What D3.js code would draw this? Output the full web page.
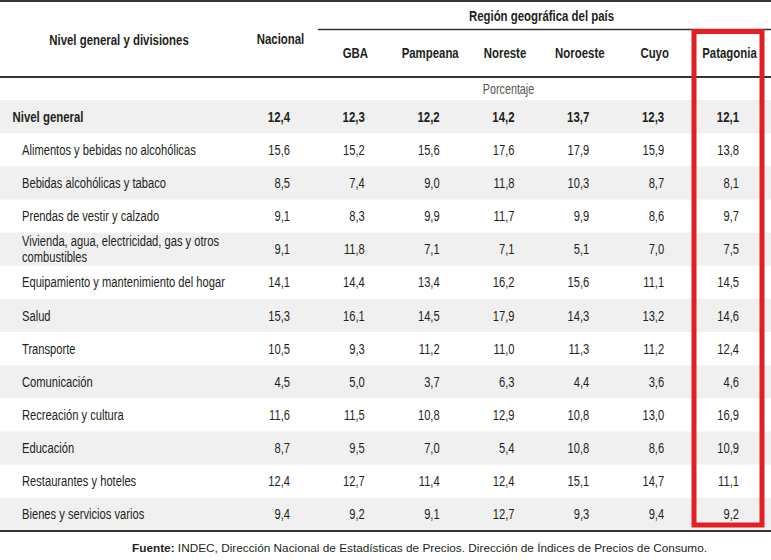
<!DOCTYPE html>
<html>
<head>
<meta charset="utf-8">
<title>Variación por región</title>
<script src="https://cdn.jsdelivr.net/npm/d3@7"></script>
<style>
  body { margin: 0; background: #fff; }
  svg { display: block; font-family: "Liberation Sans", Arial, sans-serif; }
</style>
</head>
<body>
<div id="chart"></div>
<script>
// data
const divisions = [
  "Nivel general",
  "Alimentos y bebidas no alcohólicas",
  "Bebidas alcohólicas y tabaco",
  "Prendas de vestir y calzado",
  "Vivienda, agua, electricidad, gas y otros combustibles",
  "Equipamiento y mantenimiento del hogar",
  "Salud",
  "Transporte",
  "Comunicación",
  "Recreación y cultura",
  "Educación",
  "Restaurantes y hoteles",
  "Bienes y servicios varios"
];
const regions = ["Nacional", "GBA", "Pampeana", "Noreste", "Noroeste", "Cuyo", "Patagonia"];

const nacional  = [12.4, 15.6, 8.5, 9.1, 9.1, 14.1, 15.3, 10.5, 4.5, 11.6, 8.7, 12.4, 9.4];
const gba       = [12.3, 15.2, 7.4, 8.3, 11.8, 14.4, 16.1, 9.3, 5.0, 11.5, 9.5, 12.7, 9.2];
const pampeana  = [12.2, 15.6, 9.0, 9.9, 7.1, 13.4, 14.5, 11.2, 3.7, 10.8, 7.0, 11.4, 9.1];
const noreste   = [14.2, 17.6, 11.8, 11.7, 7.1, 16.2, 17.9, 11.0, 6.3, 12.9, 5.4, 12.4, 12.7];
const noroeste  = [13.7, 17.9, 10.3, 9.9, 5.1, 15.6, 14.3, 11.3, 4.4, 10.8, 10.8, 15.1, 9.3];
const cuyo      = [12.3, 15.9, 8.7, 8.6, 7.0, 11.1, 13.2, 11.2, 3.6, 13.0, 8.6, 14.7, 9.4];
const patagonia = [12.1, 13.8, 8.1, 9.7, 7.5, 14.5, 14.6, 12.4, 4.6, 16.9, 10.9, 11.1, 9.2];

const series = [nacional, gba, pampeana, noreste, noroeste, cuyo, patagonia];
const highlighted = "Patagonia";

const width = 771, height = 560;
const ink = "#231f20";
const narrow = 0.77;     // squeeze to mimic a condensed face
const narrowBold = 0.815;

const svg = d3.select("#chart").append("svg")
  .attr("width", width)
  .attr("height", height);

// scales
const y = d3.scaleBand().domain(divisions).range([100, 531]);
const x = d3.scalePoint().domain(regions).range([290, 739]);

const es = d3.formatLocale({ decimal: ",", thousands: ".", grouping: [3], currency: ["$", ""] });
const fmt = es.format(".1f");

// place a text at (px, py) squeezed horizontally
function at(px, py, sx) {
  return `translate(${px},${py}) scale(${sx},1)`;
}

// zebra rows
svg.append("g")
  .selectAll("rect")
  .data(divisions.filter((d, i) => i % 2 === 0))
  .join("rect")
  .attr("x", 0)
  .attr("width", width)
  .attr("y", d => y(d))
  .attr("height", y.bandwidth())
  .attr("fill", "#f0f0f1");

// rules
svg.append("line").attr("x1", 0).attr("x2", width).attr("y1", 1).attr("y2", 1)
  .attr("stroke", "#333").attr("stroke-width", 2);
svg.append("line").attr("x1", x("GBA") - 47).attr("x2", width).attr("y1", 29.5).attr("y2", 29.5)
  .attr("stroke", "#333").attr("stroke-width", 1.3);
svg.append("line").attr("x1", 0).attr("x2", width).attr("y1", 77).attr("y2", 77)
  .attr("stroke", "#333").attr("stroke-width", 2);
svg.append("line").attr("x1", 0).attr("x2", width).attr("y1", 531).attr("y2", 531)
  .attr("stroke", "#333").attr("stroke-width", 2);

// header
const head = svg.append("g").attr("fill", ink).attr("font-weight", "bold").attr("font-size", 14)
  .attr("text-anchor", "middle");
head.append("text").attr("transform", at(119, 44.5, narrowBold))
  .text("Nivel general y divisiones");
head.append("text").attr("transform", at(x("Nacional") - 9.5, 43.5, narrowBold))
  .text("Nacional");
head.append("text").attr("transform", at(541.5, 21, narrowBold))
  .text("Región geográfica del país");
head.selectAll("text.col")
  .data(regions.slice(1))
  .join("text")
  .attr("class", "col")
  .attr("transform", d => at(x(d) - 9.5, 58, narrowBold))
  .text(d => d);

svg.append("text")
  .attr("transform", at(508.5, 93.5, narrow))
  .attr("text-anchor", "middle")
  .attr("font-size", 14).attr("fill", "#555")
  .text("Porcentaje");

// row labels
const labels = svg.append("g").attr("fill", ink).attr("font-size", 14.5);
labels.selectAll("text")
  .data(divisions)
  .join("text")
  .attr("transform", (d, i) => at(i === 0 ? 12.5 : 22, y(d) + y.bandwidth() / 2 + 5, i === 0 ? narrowBold : narrow))
  .attr("font-size", (d, i) => i === 0 ? 14 : null)
  .attr("font-weight", (d, i) => i === 0 ? "bold" : null)
  .each(function(d) {
    const t = d3.select(this);
    if (d.startsWith("Vivienda")) {
      const cut = d.lastIndexOf(" ");
      t.append("tspan").attr("x", 0).attr("y", -8).text(d.slice(0, cut));
      t.append("tspan").attr("x", 0).attr("y", 8).text(d.slice(cut + 1));
    } else {
      t.text(d);
    }
  });

// values
const cols = svg.append("g").attr("fill", ink).attr("font-size", 14.5).attr("text-anchor", "end");
regions.forEach((r, j) => {
  cols.append("g")
    .selectAll("text")
    .data(series[j])
    .join("text")
    .attr("transform", (d, i) => at(x(r), y(divisions[i]) + y.bandwidth() / 2 + 5, i === 0 ? narrowBold : narrow))
    .attr("font-size", (d, i) => i === 0 ? 14 : null)
    .attr("font-weight", (d, i) => i === 0 ? "bold" : null)
    .text(d => fmt(d));
});

// highlight box
svg.append("rect")
  .attr("x", x(highlighted) - 45)
  .attr("y", 31.5)
  .attr("width", 68)
  .attr("height", 493.5)
  .attr("fill", "none")
  .attr("stroke", "#e31e24")
  .attr("stroke-width", 5);

// source
const src = svg.append("text")
  .attr("x", 419.5).attr("y", 552)
  .attr("text-anchor", "middle")
  .attr("font-size", 11.8).attr("fill", ink);
src.append("tspan").attr("font-weight", "bold").text("Fuente:");
src.append("tspan").text(" INDEC, Dirección Nacional de Estadísticas de Precios. Dirección de Índices de Precios de Consumo.");
</script>
</body>
</html>
